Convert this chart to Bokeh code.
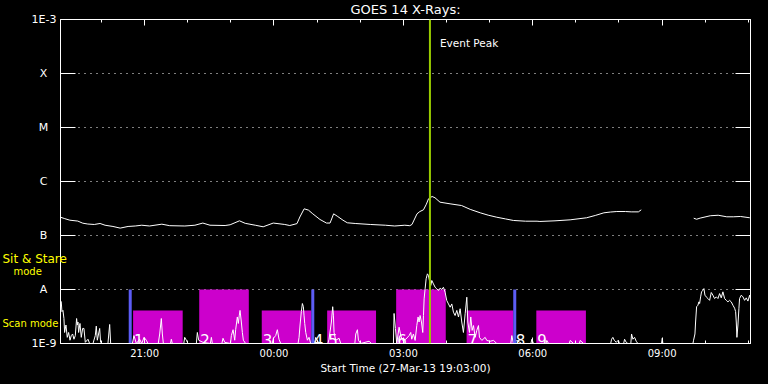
import numpy as np
import pandas as pd
from bokeh.plotting import figure
from bokeh.models import (FixedTicker, LogAxis, DatetimeAxis, DatetimeTickFormatter,
                          CustomJSTickFormatter, Span, Label, Range1d, GlobalInlineStyleSheet)
from bokeh.core.properties import value
from bokeh.embed import file_html
from bokeh.resources import INLINE

# ---------------- data ----------------
START = "2013-03-27 19:03:00"
END = "2013-03-28 11:03:00"
TITLE = "GOES 14 X-Rays:"
X_LABEL = "Start Time (27-Mar-13 19:03:00)"

Y_TICKS = [1e-9, 1e-8, 1e-7, 1e-6, 1e-5, 1e-4, 1e-3]
Y_END_LABELS = ["1E-9", "", "", "", "", "", "1E-3"]
CLASS_LEVELS = [1e-8, 1e-7, 1e-6, 1e-5, 1e-4]
CLASS_LABELS = ["A", "B", "C", "M", "X"]

X_MAJOR = ["2013-03-27 21:00", "2013-03-28 00:00", "2013-03-28 03:00",
           "2013-03-28 06:00", "2013-03-28 09:00"]
X_MINOR = ["2013-03-27 20:00", "2013-03-27 22:00", "2013-03-27 23:00",
           "2013-03-28 01:00", "2013-03-28 02:00", "2013-03-28 04:00",
           "2013-03-28 05:00", "2013-03-28 07:00", "2013-03-28 08:00",
           "2013-03-28 10:00", "2013-03-28 11:00"]

# mode captions on the flux scale
MODE_TEXT = ["Sit & Stare", "mode", "Scan mode"]
MODE_LEVEL = [3.6e-8, 2.15e-8, 2.35e-9]

# long channel (1-8 A): (minutes after start, flux W/m^2)
LONG = [(0, 2.18e-7), (6, 2.05e-7), (13, 1.92e-7), (24, 1.85e-7), (31, 1.69e-7),
        (38, 1.63e-7), (47, 1.60e-7), (55, 1.67e-7), (62, 1.55e-7), (73, 1.47e-7),
        (83, 1.37e-7), (94, 1.47e-7), (104, 1.50e-7), (113, 1.55e-7), (124, 1.50e-7),
        (141, 1.62e-7), (152, 1.52e-7), (173, 1.50e-7), (187, 1.55e-7), (198, 1.70e-7),
        (208, 1.55e-7), (229, 1.53e-7), (236, 1.58e-7), (249, 1.87e-7), (257, 1.68e-7),
        (271, 1.55e-7), (282, 1.45e-7), (296, 1.70e-7), (312, 1.60e-7), (319, 1.53e-7),
        (329, 1.66e-7), (333, 2.20e-7), (339, 3.12e-7), (345, 2.95e-7), (351, 2.52e-7),
        (361, 1.98e-7), (370, 1.70e-7), (375, 1.70e-7), (380, 2.52e-7), (385, 2.28e-7),
        (393, 1.92e-7), (399, 1.72e-7), (410, 1.67e-7), (431, 1.60e-7), (452, 1.55e-7),
        (465, 1.50e-7), (479, 1.55e-7), (486, 1.52e-7), (489, 1.60e-7), (496, 2.52e-7),
        (500, 2.78e-7), (505, 2.99e-7), (509, 3.80e-7), (512, 4.78e-7), (517, 5.28e-7),
        (521, 5.00e-7), (528, 4.14e-7), (542, 3.86e-7), (558, 3.59e-7), (570, 3.05e-7),
        (584, 2.63e-7), (595, 2.38e-7), (607, 2.18e-7), (619, 2.03e-7), (630, 1.90e-7),
        (647, 1.84e-7), (663, 1.84e-7), (667, 1.82e-7), (688, 1.87e-7), (709, 1.95e-7),
        (732, 2.13e-7), (744, 2.35e-7), (756, 2.63e-7), (765, 2.72e-7), (774, 2.78e-7),
        (786, 2.78e-7), (794, 2.74e-7), (804, 2.74e-7), (808, 2.99e-7), (844, np.nan),
        (881, 2.09e-7), (885, 2.00e-7), (890, 2.10e-7), (904, 2.32e-7), (915, 2.37e-7),
        (927, 2.22e-7), (936, 2.22e-7), (946, 2.25e-7), (959, 2.13e-7)]

# short channel (0.5-4 A): (minutes after start, flux W/m^2)
SHORT = [(0, 6.1e-9), (1, 6.0e-9), (2, 3.9e-9), (3.4, 4.1e-9), (4.8, 2.9e-9), (5.7, 1.6e-9),
         (7.6, 2.2e-9), (9.4, 1.3e-9), (11.3, 1.6e-9), (13.2, 1.15e-9), (15, 1.4e-9),
         (16.9, 1.5e-9), (18.7, 1.2e-9), (20.6, 1.4e-9), (22.4, 2.9e-9), (23.4, 2.2e-9),
         (24.3, 2.5e-9), (25.2, 1.6e-9), (27.1, 2.35e-9), (28.9, 1.3e-9), (30.8, 1.9e-9),
         (32.6, 1.9e-9), (34.5, 1.05e-9), (38.2, 1.2e-9), (40.5, 1.0e-9), (45.2, 1.0e-9),
         (48.4, 1.4e-9), (49.8, 2.1e-9), (51.2, 1.15e-9), (54.5, 1.9e-9), (55.8, 1.05e-9),
         (57.7, 1.0e-9), (66, 1.0e-9), (68.4, 2.25e-9), (69.8, 1.0e-9), (100, 1.0e-9),
         (102.2, 1.4e-9), (105.5, 1.0e-9), (110.1, 1.2e-9), (113, 1.0e-9), (116.2, 1.3e-9),
         (119.4, 1.15e-9), (121.7, 1.0e-9), (136, 1.0e-9), (138, 1.5e-9), (140.3, 2.9e-9),
         (141.7, 1.5e-9), (143.1, 1.0e-9), (153, 1.0e-9), (154.2, 1.2e-9), (155.6, 1.0e-9),
         (171.5, 1.0e-9), (172.8, 1.3e-9), (175.1, 1.15e-9), (177.4, 1.0e-9), (189, 1.0e-9),
         (190.4, 1.6e-9), (192.3, 1.15e-9), (198.3, 1.05e-9), (208.5, 1.0e-9), (209.9, 1.3e-9),
         (211.3, 1.0e-9), (224.5, 1.0e-9), (226.1, 1.25e-9), (228.5, 1.05e-9), (236.5, 1.0e-9),
         (237.7, 1.4e-9), (240.1, 1.8e-9), (242.4, 1.15e-9), (243.7, 1.8e-9), (246, 3.1e-9),
         (247.4, 2.35e-9), (248.8, 3.35e-9), (249.8, 4.1e-9), (251.6, 2.5e-9), (253, 1.6e-9),
         (254.4, 1.15e-9), (257.6, 1.0e-9), (294.5, 1.0e-9), (296.2, 1.25e-9), (299.4, 1.4e-9),
         (301.7, 1.8e-9), (304, 1.2e-9), (306.4, 1.0e-9), (330.5, 1.0e-9), (331.9, 1.3e-9),
         (333.3, 2.2e-9), (335.1, 3.9e-9), (336.5, 5.5e-9), (337.9, 4.8e-9), (338.8, 3.35e-9),
         (339.8, 2.35e-9), (341.2, 1.6e-9), (343.5, 1.15e-9), (345.8, 1.3e-9), (348.1, 1.0e-9),
         (353.5, 1.0e-9), (355.1, 1.3e-9), (359.7, 1.0e-9), (372, 1.0e-9), (373.6, 1.2e-9),
         (376.9, 2.5e-9), (378.7, 4.8e-9), (379.7, 3.35e-9), (380.6, 1.6e-9), (382.9, 1.15e-9),
         (387.6, 1.25e-9), (389.9, 1.0e-9), (409.5, 1.0e-9), (410.8, 1.5e-9), (413.1, 1.8e-9),
         (414.5, 1.15e-9), (417.7, 1.0e-9), (429.3, 1.1e-9), (432.6, 1.0e-9), (463.2, 1.0e-9),
         (464.1, 3.6e-9), (466, 1.9e-9), (467.8, 1.0e-9), (471.1, 2.0e-9), (473.4, 1.4e-9),
         (475.7, 1.15e-9), (480.4, 1.2e-9), (485, 1.4e-9), (487.3, 1.6e-9), (488.7, 1.2e-9),
         (491, 1.5e-9), (493.4, 1.14e-9), (495.7, 2.15e-9), (497.5, 3.1e-9), (498.9, 2.5e-9),
         (500.3, 3.3e-9), (502.2, 2.5e-9), (504, 1.6e-9), (505, 3.3e-9), (505.9, 6.7e-9),
         (507.3, 1.03e-8), (508.7, 1.58e-8), (510.5, 1.95e-8), (511.9, 1.82e-8), (513.3, 1.47e-8),
         (515.2, 1.19e-8), (516.6, 1.47e-8), (518.9, 1.27e-8), (521.2, 1.10e-8), (523.5, 1.03e-8),
         (525.8, 9.6e-9), (528.2, 1.06e-8), (530.5, 1.0e-8), (532.8, 1.10e-8), (535.1, 8.9e-9),
         (537.4, 6.25e-9), (539.8, 5.4e-9), (542.1, 4.7e-9), (544.4, 5.4e-9), (546.7, 3.8e-9),
         (549, 3.3e-9), (551.4, 4.1e-9), (553.7, 3.1e-9), (556, 4.4e-9), (558.3, 2.5e-9),
         (560.6, 1.6e-9), (563, 3.55e-9), (565.3, 7.2e-9), (566.7, 2.5e-9), (569, 1.6e-9),
         (570.8, 3.1e-9), (572.7, 1.75e-9), (574.6, 2.15e-9), (576.9, 1.3e-9), (579.2, 1.75e-9),
         (581.5, 2.15e-9), (582.9, 1.3e-9), (586.2, 1.14e-9), (590.8, 1.3e-9), (593.1, 1.14e-9),
         (597.8, 1.1e-9), (602.4, 1.14e-9), (607, 1.0e-9), (626.5, 1.0e-9), (627.9, 1.4e-9),
         (630.2, 1.0e-9), (634.9, 1.14e-9), (641.8, 1.0e-9), (654.5, 1.0e-9), (655.8, 1.2e-9),
         (658.1, 1.0e-9), (675.5, 1.0e-9), (676.6, 1.14e-9), (679, 1.0e-9), (708, 1.0e-9),
         (709.1, 1.14e-9), (713.8, 1.0e-9), (722, 1.0e-9), (723, 1.14e-9), (727.7, 1.0e-9),
         (765.5, 1.0e-9), (766.7, 1.2e-9), (768.5, 1.3e-9), (770.4, 1.15e-9), (773.2, 1.05e-9),
         (776, 1.15e-9), (777.8, 1.0e-9), (783.5, 1.0e-9), (784.8, 1.2e-9), (787.1, 1.05e-9),
         (789.4, 1.0e-9), (793.5, 1.0e-9), (794.5, 1.5e-9), (796.4, 1.2e-9), (798.7, 1.3e-9),
         (801, 1.1e-9), (803.3, 1.0e-9), (836.2, 1.0e-9), (837.2, 1.25e-9), (838.1, 1.0e-9),
         (879.9, 1.0e-9), (880.8, 1.15e-9), (882.7, 1.5e-9), (883.6, 2.5e-9), (885, 4.8e-9),
         (886.8, 5.1e-9), (888.2, 5.9e-9), (889.2, 5.5e-9), (890.6, 7.3e-9), (891.9, 9.05e-9),
         (893.8, 9.7e-9), (895.2, 1.04e-8), (896.6, 7.85e-9), (898.4, 7.3e-9), (900.8, 6.8e-9),
         (903.1, 6.3e-9), (905.4, 8.8e-9), (907.7, 7.85e-9), (910, 6.8e-9), (912.4, 7.3e-9),
         (914.7, 6.8e-9), (917, 8.4e-9), (919.3, 7.0e-9), (921.6, 9.05e-9), (924, 6.8e-9),
         (926.3, 6.3e-9), (928.6, 5.9e-9), (930.9, 6.3e-9), (933.2, 5.9e-9), (935.6, 5.1e-9),
         (937.9, 4.5e-9), (939.3, 3.9e-9), (940.2, 2.5e-9), (941.1, 1.3e-9), (942.5, 2.2e-9),
         (943.9, 4.5e-9), (944.8, 6.8e-9), (947.2, 7.85e-9), (949.5, 7.3e-9), (951.8, 6.3e-9),
         (954.1, 7.0e-9), (956.4, 6.1e-9), (958.8, 7.85e-9), (959.7, 6.8e-9)]

# observation scans
SCAN_LABELS = ["1", "2", "3", "4", "5", "6", "7", "8", "9"]
SCAN_START = ["2013-03-27 20:44", "2013-03-27 22:16", "2013-03-27 23:43", "2013-03-28 00:54",
              "2013-03-28 01:14", "2013-03-28 02:50", "2013-03-28 04:28", "2013-03-28 05:35",
              "2013-03-28 06:05"]
SCAN_END = ["2013-03-27 21:53", "2013-03-27 23:25", "2013-03-28 00:52", "2013-03-28 00:54",
            "2013-03-28 02:22", "2013-03-28 03:59", "2013-03-28 05:33", "2013-03-28 05:35",
            "2013-03-28 07:14"]
SCAN_TOP = [4.1e-9, 1e-8, 4.1e-9, 4.1e-9, 4.1e-9, 1e-8, 4.1e-9, 4.1e-9, 4.1e-9]
MARKS = ["2013-03-27 20:40", "2013-03-28 00:54", "2013-03-28 05:35"]
PEAK = "2013-03-28 03:37"

# ---------------- helpers ----------------
t0 = pd.Timestamp(START)
t1 = pd.Timestamp(END)


def ms(s):
    return pd.Timestamp(s).timestamp() * 1000.0


long_t = t0 + pd.to_timedelta([m for m, _ in LONG], unit="m")
long_f = np.array([f for _, f in LONG], dtype=float)
short_t = t0 + pd.to_timedelta([m for m, _ in SHORT], unit="m")
short_f = np.array([f for _, f in SHORT], dtype=float)

FONT = "DejaVu Sans"
WHITE = "white"

p = figure(width=768, height=384, x_axis_type="datetime", y_axis_type="log",
           x_range=Range1d(t0, t1), y_range=Range1d(1e-9, 1e-3),
           output_backend="svg", toolbar_location=None, title=None,
           min_border_left=60, min_border_right=18, min_border_top=19, min_border_bottom=41,
           background_fill_color="black", border_fill_color="black",
           outline_line_color=WHITE)
p.stylesheets = [GlobalInlineStyleSheet(css="html, body { background-color: #000000; }")]

yt = FixedTicker(ticks=Y_TICKS)
xt = FixedTicker(ticks=[ms(s) for s in X_MAJOR], minor_ticks=[ms(s) for s in X_MINOR])

# left axis (end labels)
ya = p.yaxis[0]
ya.ticker = yt
ya.formatter = CustomJSTickFormatter(args=dict(lbl=Y_END_LABELS),
                                     code="return lbl[Math.round(Math.log10(tick)) + 9];")
ya.major_label_standoff = 4

# bottom axis
xa = p.xaxis[0]
xa.ticker = xt
xa.formatter = DatetimeTickFormatter(hours="%H:%M", hourmin="%H:%M", days="%H:%M")
xa.major_label_standoff = 4
xa.axis_label = X_LABEL
xa.axis_label_standoff = 0
xa.axis_label_text_font = FONT
xa.axis_label_text_font_size = "10.5px"
xa.axis_label_text_font_style = "normal"
xa.axis_label_text_color = WHITE

empty = CustomJSTickFormatter(code="return '';")
ra = LogAxis(ticker=yt, formatter=empty, major_label_text_font_size="0px",
             major_label_standoff=0)
p.add_layout(ra, "right")
ta = DatetimeAxis(ticker=xt, formatter=empty, major_label_text_font_size="0px",
                  major_label_standoff=0)
p.add_layout(ta, "above")

for ax in (ya, ra):
    ax.major_tick_in = 15
    ax.major_tick_out = 0
    ax.minor_tick_in = 0
    ax.minor_tick_out = 0
for ax in (xa, ta):
    ax.major_tick_in = 6
    ax.major_tick_out = 0
    ax.minor_tick_in = 3
    ax.minor_tick_out = 0
for ax in (ya, ra, xa, ta):
    ax.axis_line_color = WHITE
    ax.major_tick_line_color = WHITE
    ax.minor_tick_line_color = WHITE
    ax.major_label_text_color = WHITE
    ax.major_label_text_font = FONT
ya.major_label_text_font_size = "11px"
xa.major_label_text_font_size = "10px"

p.xgrid.visible = False
p.ygrid.ticker = yt
p.ygrid.grid_line_color = WHITE
p.ygrid.grid_line_dash = "1 5"
p.ygrid.grid_line_width = 1

# scans
p.quad(left=pd.to_datetime(SCAN_START), right=pd.to_datetime(SCAN_END),
       bottom=1e-9, top=SCAN_TOP, fill_color="#CC00CC", line_color=None)

# curves
p.line(short_t, short_f, line_color=WHITE, line_width=1)
p.line(long_t, long_f, line_color=WHITE, line_width=1)

# blue markers
mk = pd.to_datetime(MARKS)
p.segment(x0=mk, y0=1e-9, x1=mk, y1=1e-8, line_color="#5C5CF5", line_width=3)

# scan numbers
p.text(x=pd.to_datetime(SCAN_START), y=1.15e-9, text=SCAN_LABELS, x_offset=1,
       text_color=WHITE, text_font=value(FONT), text_font_size="15px",
       text_baseline="alphabetic", text_align="left")

# event peak
p.add_layout(Span(location=ms(PEAK), dimension="height", line_color="#99CC00", line_width=2))
p.add_layout(Label(x=ms(PEAK), y=3.67e-4, x_offset=10, text="Event Peak",
                   text_color=WHITE, text_font=FONT, text_font_size="10.5px",
                   text_baseline="middle"))

# texts outside the frame (overlay level -> not clipped to the frame)
n_cls = len(CLASS_LABELS)
p.text(x=[t0] * n_cls, y=CLASS_LEVELS, text=CLASS_LABELS, x_offset=-17,
       text_color=WHITE, text_font=value(FONT), text_font_size="11px",
       text_align="center", text_baseline="middle", level="overlay")
p.text(x=[t0], y=[MODE_LEVEL[0]], text=[MODE_TEXT[0]], x_offset=-58,
       text_color="yellow", text_font=value(FONT), text_font_size="12px",
       text_align="left", text_baseline="middle", level="overlay")
p.text(x=[t0, t0], y=MODE_LEVEL[1:], text=MODE_TEXT[1:], x_offset=[-47, -58],
       text_color="yellow", text_font=value(FONT), text_font_size="10px",
       text_align="left", text_baseline="middle", level="overlay")
p.text(x=[t0 + (t1 - t0) / 2], y=[1e-3], text=[TITLE], y_offset=-10,
       text_color=WHITE, text_font=value(FONT), text_font_size="13px",
       text_align="center", text_baseline="middle", level="overlay")

open("out.html", "w").write(file_html(p, INLINE))
